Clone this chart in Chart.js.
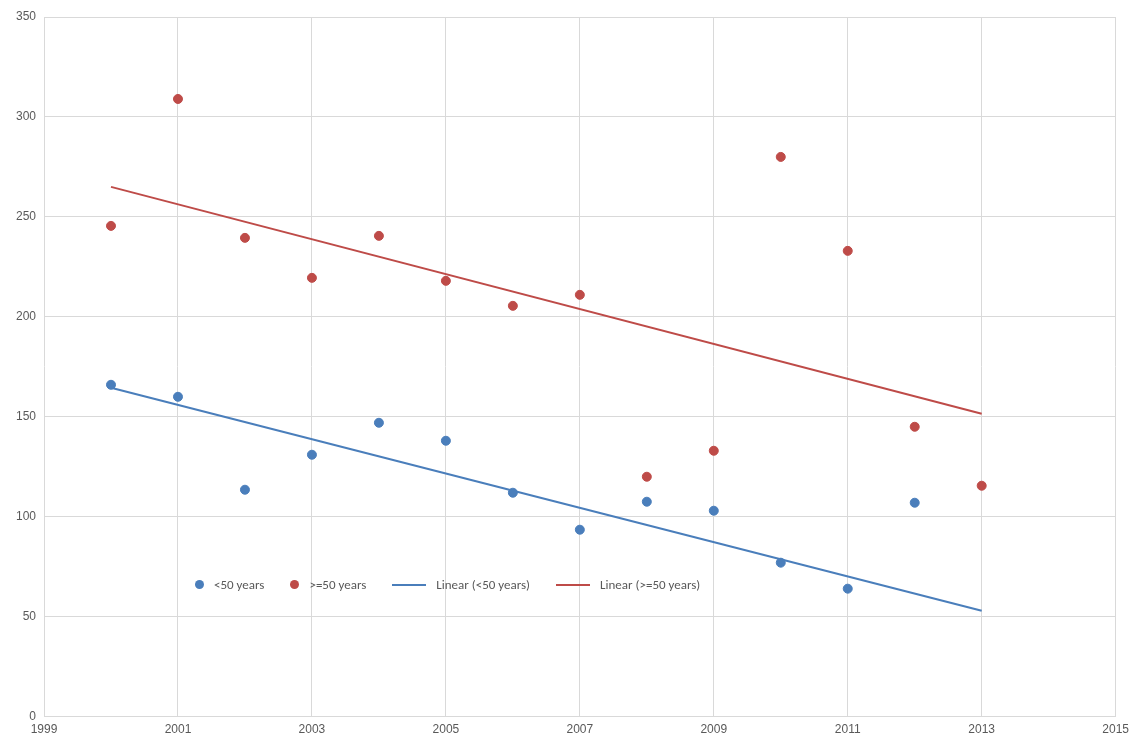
<!DOCTYPE html>
<html>
<head>
<meta charset="utf-8">
<script src="https://cdn.jsdelivr.net/npm/chart.js@4"></script>
<style>
	body { margin: 0; background: #fff; font-family: Calibri, "Liberation Sans", "DejaVu Sans", sans-serif; }
	#wrap { position: relative; width: 1135px; height: 753px; }
	#legend { position: absolute; left: 195px; top: 577px; font-size: 13px; color: #595959; display: flex; gap: 26px; align-items: center; }
	#legend span { display: inline-flex; align-items: center; gap: 10px; }
	.dot { width: 9px; height: 9px; border-radius: 50%; display: inline-block; }
	.ln { width: 34px; height: 2px; display: inline-block; }
</style>
</head>
<body>
<div id="wrap">
	<canvas id="c" width="1135" height="753"></canvas>
	<div id="legend">
		<span><i class="dot" style="background:#4a7ebb"></i>&lt;50 years</span>
		<span><i class="dot" style="background:#be4b48"></i>&gt;=50 years</span>
		<span><i class="ln" style="background:#4a7ebb"></i>Linear (&lt;50 years)</span>
		<span><i class="ln" style="background:#be4b48"></i>Linear (&gt;=50 years)</span>
	</div>
</div>
<script>
const years = [2000, 2001, 2002, 2003, 2004, 2005, 2006, 2007, 2008, 2009, 2010, 2011, 2012, 2013];
const under50 = [166, 160, 113.5, 131, 147, 138, 112, 93.5, 107.5, 103, 77, 64, 107];
const over50 = [245.5, 309, 239.5, 219.5, 240.5, 218, 205.5, 211, 120, 133, 280, 233, 145, 115.5];
// trend line end values (2000, 2013) as shown in the picture
const trendYears = [2000, 2013];
const trendUnder50 = [164.5, 53];
const trendOver50 = [265, 151.5];
const xTicks = [1999, 2001, 2003, 2005, 2007, 2009, 2011, 2013, 2015];

const blue = '#4a7ebb', red = '#be4b48';

function pts(xs, vals) { return vals.map((v, i) => ({ x: xs[i], y: v })); }

new Chart(document.getElementById('c'), {
	type: 'scatter',
	data: {
		datasets: [
			{ data: pts(years, under50), backgroundColor: blue, borderColor: blue, pointRadius: 4.5 },
			{ data: pts(years, over50), backgroundColor: red, borderColor: red, pointRadius: 4.5 },
			{ type: 'line', data: pts(trendYears, trendUnder50), borderColor: blue, borderWidth: 2, pointRadius: 0 },
			{ type: 'line', data: pts(trendYears, trendOver50), borderColor: red, borderWidth: 2, pointRadius: 0 }
		]
	},
	options: {
		responsive: false,
		animation: false,
		layout: { padding: { left: 8, right: 17, top: 17, bottom: 10 } },
		plugins: { legend: { display: false }, tooltip: { enabled: false } },
		scales: {
			x: {
				type: 'linear', min: 1999, max: 2015,
				afterBuildTicks: s => { s.ticks = xTicks.map(v => ({ value: v })); },
				ticks: { color: '#595959', font: { size: 12 }, padding: 6, maxRotation: 0, callback: v => String(v) },
				grid: { color: '#d9d9d9', drawTicks: false },
				border: { color: '#d9d9d9' }
			},
			y: {
				min: 0, max: 350,
				ticks: { stepSize: 50, color: '#595959', font: { size: 12 }, padding: 8 },
				grid: { color: '#d9d9d9', drawTicks: false },
				border: { display: false }
			}
		}
	}
});
</script>
</body>
</html>
